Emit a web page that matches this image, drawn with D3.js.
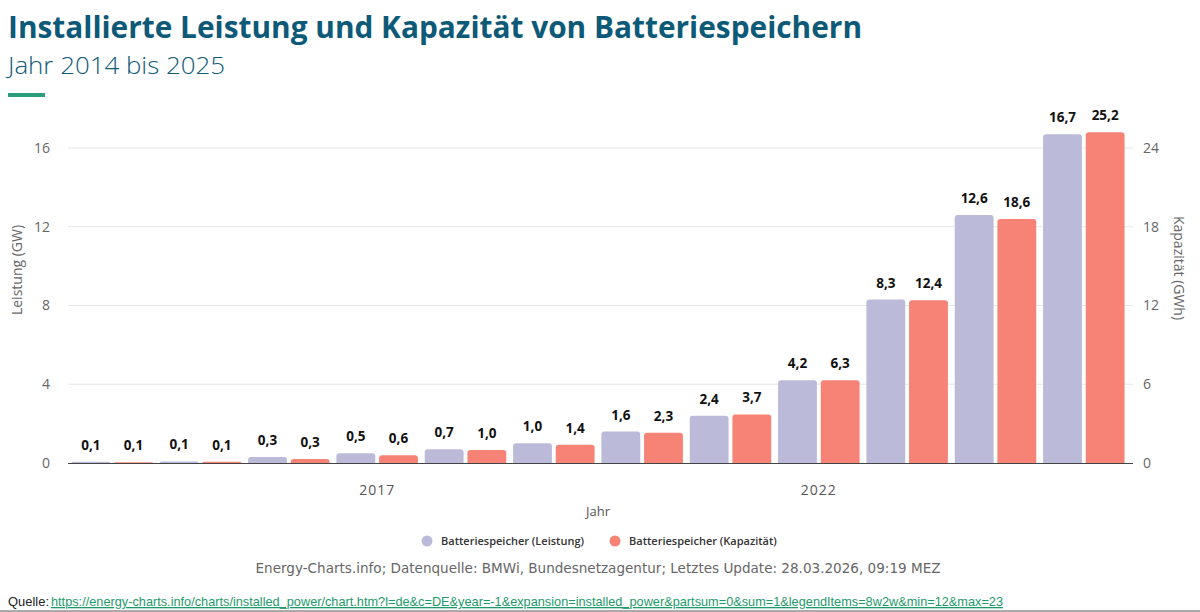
<!DOCTYPE html>
<html>
<head>
<meta charset="utf-8">
<script src="https://cdn.jsdelivr.net/npm/d3@7"></script>
<style>
  body { margin: 0; background: #fff; }
  svg { display: block; font-family: "Open Sans", "Noto Sans", sans-serif; }
</style>
</head>
<body>
<script>
// data
var years = ["2014","2015","2016","2017","2018","2019","2020","2021","2022","2023","2024","2025"];
var leistung = [0.06, 0.08, 0.3, 0.5, 0.7, 1.0, 1.6, 2.4, 4.2, 8.3, 12.6, 16.7];   // GW
var kapazitaet = [0.06, 0.1, 0.3, 0.6, 1.0, 1.4, 2.3, 3.7, 6.3, 12.4, 18.6, 25.2]; // GWh
var leftTicks = [0, 4, 8, 12, 16];
var rightTicks = [0, 6, 12, 18, 24];
var xTickLabels = ["2017", "2022"];
var seriesNames = ["Batteriespeicher (Leistung)", "Batteriespeicher (Kapazität)"];
var seriesColors = ["#bcbad9", "#f78377"];

var width = 1200, height = 612,
    plotLeft = 68, plotRight = 1128, plotBottom = 463;

var svg = d3.select("body").append("svg")
    .attr("width", width)
    .attr("height", height);

// header
svg.append("text")
    .attr("x", 8).attr("y", 38)
    .attr("font-size", 30).attr("font-weight", 700)
    .attr("fill", "#0d5a78")
    .attr("textLength", 854).attr("lengthAdjust", "spacingAndGlyphs")
    .text("Installierte Leistung und Kapazität von Batteriespeichern");
svg.append("text")
    .attr("x", 8).attr("y", 74)
    .attr("font-size", 24).attr("font-weight", 300)
    .attr("fill", "#0d5a78")
    .attr("textLength", 217).attr("lengthAdjust", "spacingAndGlyphs")
    .text("Jahr 2014 bis 2025");
svg.append("rect")
    .attr("x", 8).attr("y", 93).attr("width", 37).attr("height", 4)
    .attr("fill", "#2a9d7d");

// scales
var x0 = d3.scaleBand().domain(years).range([plotLeft, plotRight]).paddingInner(0).paddingOuter(0);
var x1 = d3.scaleBand().domain([0, 1]).range([0, x0.bandwidth()]).paddingInner(0.09).paddingOuter(0.08);
var yL = d3.scaleLinear().domain([0, 16]).range([plotBottom, 148]);
var yR = d3.scaleLinear().domain([0, 24]).range([plotBottom, 148]);

// grid
svg.append("g").selectAll("line")
    .data(leftTicks.slice(1))
    .enter().append("line")
    .attr("x1", plotLeft).attr("x2", 1133)
    .attr("y1", function (d) { return yL(d); })
    .attr("y2", function (d) { return yL(d); })
    .attr("stroke", "#e6e6e6").attr("stroke-width", 1);

// left axis
var gL = svg.append("g")
    .attr("transform", "translate(50,0)")
    .call(d3.axisLeft(yL).tickValues(leftTicks).tickSize(0).tickPadding(0).tickFormat(d3.format("d")));
gL.select(".domain").remove();
gL.selectAll("text").attr("font-size", 14).attr("fill", "#666").attr("font-family", "Open Sans, sans-serif");

// right axis
var gR = svg.append("g")
    .attr("transform", "translate(1143,0)")
    .call(d3.axisRight(yR).tickValues(rightTicks).tickSize(0).tickPadding(0).tickFormat(d3.format("d")));
gR.select(".domain").remove();
gR.selectAll("text").attr("font-size", 14).attr("fill", "#666").attr("font-family", "Open Sans, sans-serif");

svg.append("text")
    .attr("transform", "translate(22,270) rotate(-90)")
    .attr("text-anchor", "middle")
    .attr("font-size", 14).attr("font-weight", 500).attr("fill", "#666")
    .text("Leistung (GW)");
svg.append("text")
    .attr("transform", "translate(1174,268) rotate(90)")
    .attr("text-anchor", "middle")
    .attr("font-size", 14).attr("font-weight", 500).attr("fill", "#666")
    .text("Kapazität (GWh)");

// bars with rounded tops
function topRounded(x, y, w, h, r) {
    r = Math.min(r, h, w / 2);
    return "M" + x + "," + (y + h) +
        "V" + (y + r) +
        "Q" + x + "," + y + " " + (x + r) + "," + y +
        "H" + (x + w - r) +
        "Q" + (x + w) + "," + y + " " + (x + w) + "," + (y + r) +
        "V" + (y + h) + "Z";
}

var rows = years.map(function (yr, i) {
    return { year: yr, vals: [
        { s: 0, v: leistung[i], y: yL(leistung[i]) },
        { s: 1, v: kapazitaet[i], y: yR(kapazitaet[i]) }
    ] };
});

var groups = svg.append("g").selectAll("g")
    .data(rows)
    .enter().append("g")
    .attr("transform", function (d) { return "translate(" + x0(d.year) + ",0)"; });

groups.selectAll("path")
    .data(function (d) { return d.vals; })
    .enter().append("path")
    .attr("fill", function (d) { return seriesColors[d.s]; })
    .attr("d", function (d) {
        return topRounded(x1(d.s), d.y, x1.bandwidth(), plotBottom - d.y, 3);
    });

var fmt = function (v) { return d3.format(".1f")(v).replace(".", ","); };
groups.selectAll("text")
    .data(function (d) { return d.vals; })
    .enter().append("text")
    .attr("x", function (d) { return x1(d.s) + x1.bandwidth() / 2; })
    .attr("y", function (d) { return d.y - 12; })
    .attr("text-anchor", "middle")
    .attr("font-size", 13.5).attr("font-weight", 700).attr("fill", "#111")
    .text(function (d) { return fmt(d.v); });

// x axis
svg.append("line")
    .attr("x1", plotLeft).attr("x2", 1133)
    .attr("y1", plotBottom + 0.5).attr("y2", plotBottom + 0.5)
    .attr("stroke", "#444").attr("stroke-width", 1);
svg.append("g").selectAll("text")
    .data(xTickLabels)
    .enter().append("text")
    .attr("x", function (d) { return x0(d) + x0.bandwidth() / 2; })
    .attr("y", 495)
    .attr("text-anchor", "middle")
    .attr("font-size", 14).attr("fill", "#555").attr("letter-spacing", 1)
    .text(function (d) { return d; });
svg.append("text")
    .attr("x", 598).attr("y", 516)
    .attr("text-anchor", "middle")
    .attr("font-size", 13).attr("fill", "#555")
    .text("Jahr");

// legend
var legendX = [427, 615];
var lg = svg.append("g").selectAll("g")
    .data(seriesNames)
    .enter().append("g")
    .attr("transform", function (d, i) { return "translate(" + legendX[i] + ",541)"; });
lg.append("circle").attr("r", 5.5).attr("fill", function (d, i) { return seriesColors[i]; });
lg.append("text")
    .attr("x", 14).attr("y", 4)
    .attr("font-size", 11).attr("font-weight", 600).attr("fill", "#333")
    .text(function (d) { return d; });

// credits
svg.append("text")
    .attr("x", 598).attr("y", 573)
    .attr("text-anchor", "middle")
    .attr("font-family", "DejaVu Sans, sans-serif")
    .attr("font-size", 13.5).attr("fill", "#666")
    .attr("textLength", 685).attr("lengthAdjust", "spacingAndGlyphs")
    .text("Energy-Charts.info; Datenquelle: BMWi, Bundesnetzagentur; Letztes Update: 28.03.2026, 09:19 MEZ");

svg.append("text")
    .attr("x", 8).attr("y", 606)
    .attr("font-family", "Liberation Sans Narrow, Liberation Sans, sans-serif")
    .attr("font-size", 13).attr("fill", "#222")
    .attr("textLength", 41).attr("lengthAdjust", "spacingAndGlyphs")
    .text("Quelle:");
svg.append("text")
    .attr("x", 51).attr("y", 606)
    .attr("font-family", "Liberation Sans Narrow, Liberation Sans, sans-serif")
    .attr("font-size", 13).attr("fill", "#1e9a6a")
    .attr("text-decoration", "underline")
    .attr("textLength", 952).attr("lengthAdjust", "spacingAndGlyphs")
    .text("https://energy-charts.info/charts/installed_power/chart.htm?l=de&c=DE&year=-1&expansion=installed_power&partsum=0&sum=1&legendItems=8w2w&min=12&max=23");

svg.append("line")
    .attr("x1", 0).attr("x2", width)
    .attr("y1", 611).attr("y2", 611)
    .attr("stroke", "#aaa").attr("stroke-width", 2);
</script>
</body>
</html>
